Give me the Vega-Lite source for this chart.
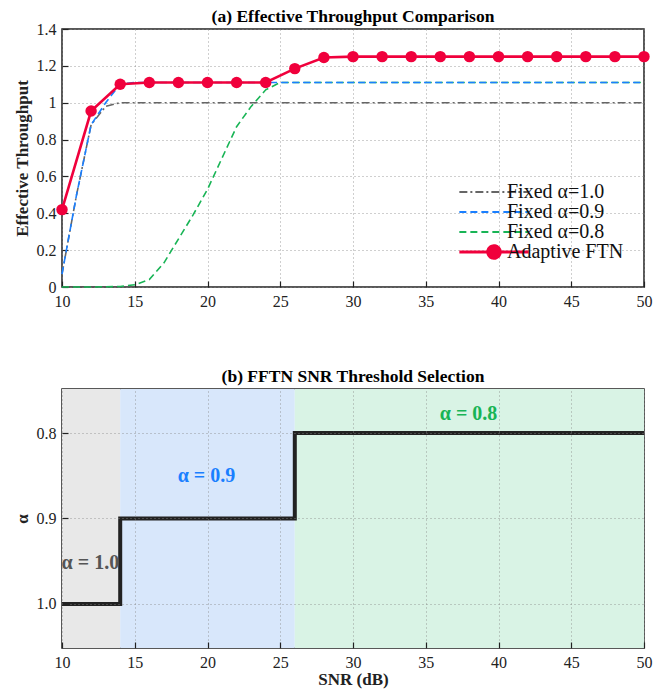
{
  "$schema": "https://vega.github.io/schema/vega-lite/v6.json",
  "padding": {"left": 12, "top": 6, "right": 12, "bottom": 2},
  "spacing": 56,
  "resolve": {"scale": {"color": "independent", "strokeDash": "independent"}, "legend": {"color": "independent", "strokeDash": "independent"}},
  "config": {
    "font": "Liberation Serif",
    "view": {"stroke": "#222", "strokeWidth": 1.5},
    "title": {"fontSize": 17.5, "fontWeight": "bold", "color": "#000", "offset": 4},
    "legend": {"padding": 0},
    "axis": {
      "labelFont": "Liberation Serif", "labelFontSize": 16, "labelColor": "#222", "labelOverlap": false, "labelFlush": false,
      "titleFont": "Liberation Serif", "titleFontSize": 17, "titleFontWeight": "bold", "titleColor": "#222",
      "grid": true, "gridDash": [1, 3], "gridColor": "#888", "gridOpacity": 0.8,
      "domain": false, "tickColor": "#222", "tickSize": -6, "tickWidth": 1.2, "labelPadding": 12
    }
  },
  "datasets": {
    "fixed": [
      {"series": "Fixed α=1.0", "snr": 10, "v": 0.07},
      {"series": "Fixed α=1.0", "snr": 11, "v": 0.5},
      {"series": "Fixed α=1.0", "snr": 12, "v": 0.88},
      {"series": "Fixed α=1.0", "snr": 13, "v": 0.98},
      {"series": "Fixed α=1.0", "snr": 14, "v": 1.0},
      {"series": "Fixed α=1.0", "snr": 20, "v": 1.0},
      {"series": "Fixed α=1.0", "snr": 30, "v": 1.0},
      {"series": "Fixed α=1.0", "snr": 40, "v": 1.0},
      {"series": "Fixed α=1.0", "snr": 50, "v": 1.0},
      {"series": "Fixed α=0.8", "snr": 10, "v": 0},
      {"series": "Fixed α=0.8", "snr": 12, "v": 0},
      {"series": "Fixed α=0.8", "snr": 14, "v": 0.003},
      {"series": "Fixed α=0.8", "snr": 15, "v": 0.012},
      {"series": "Fixed α=0.8", "snr": 16, "v": 0.04},
      {"series": "Fixed α=0.8", "snr": 17, "v": 0.13},
      {"series": "Fixed α=0.8", "snr": 18, "v": 0.26},
      {"series": "Fixed α=0.8", "snr": 19, "v": 0.39},
      {"series": "Fixed α=0.8", "snr": 20, "v": 0.53},
      {"series": "Fixed α=0.8", "snr": 21, "v": 0.7},
      {"series": "Fixed α=0.8", "snr": 22, "v": 0.87},
      {"series": "Fixed α=0.8", "snr": 23, "v": 0.98},
      {"series": "Fixed α=0.8", "snr": 24, "v": 1.07},
      {"series": "Fixed α=0.8", "snr": 25, "v": 1.11},
      {"series": "Fixed α=0.8", "snr": 30, "v": 1.11},
      {"series": "Fixed α=0.8", "snr": 40, "v": 1.11},
      {"series": "Fixed α=0.8", "snr": 50, "v": 1.11},
      {"series": "Fixed α=0.9", "snr": 10, "v": 0.07},
      {"series": "Fixed α=0.9", "snr": 11, "v": 0.5},
      {"series": "Fixed α=0.9", "snr": 12, "v": 0.88},
      {"series": "Fixed α=0.9", "snr": 13, "v": 1.0},
      {"series": "Fixed α=0.9", "snr": 14, "v": 1.1},
      {"series": "Fixed α=0.9", "snr": 15, "v": 1.11},
      {"series": "Fixed α=0.9", "snr": 20, "v": 1.11},
      {"series": "Fixed α=0.9", "snr": 30, "v": 1.11},
      {"series": "Fixed α=0.9", "snr": 40, "v": 1.11},
      {"series": "Fixed α=0.9", "snr": 50, "v": 1.11}
    ],
    "adaptive": [
      {"series": "Adaptive FTN", "snr": 10, "v": 0.42},
      {"series": "Adaptive FTN", "snr": 12, "v": 0.955},
      {"series": "Adaptive FTN", "snr": 14, "v": 1.1},
      {"series": "Adaptive FTN", "snr": 16, "v": 1.11},
      {"series": "Adaptive FTN", "snr": 18, "v": 1.11},
      {"series": "Adaptive FTN", "snr": 20, "v": 1.11},
      {"series": "Adaptive FTN", "snr": 22, "v": 1.11},
      {"series": "Adaptive FTN", "snr": 24, "v": 1.11},
      {"series": "Adaptive FTN", "snr": 26, "v": 1.185},
      {"series": "Adaptive FTN", "snr": 28, "v": 1.245},
      {"series": "Adaptive FTN", "snr": 30, "v": 1.25},
      {"series": "Adaptive FTN", "snr": 32, "v": 1.25},
      {"series": "Adaptive FTN", "snr": 34, "v": 1.25},
      {"series": "Adaptive FTN", "snr": 36, "v": 1.25},
      {"series": "Adaptive FTN", "snr": 38, "v": 1.25},
      {"series": "Adaptive FTN", "snr": 40, "v": 1.25},
      {"series": "Adaptive FTN", "snr": 42, "v": 1.25},
      {"series": "Adaptive FTN", "snr": 44, "v": 1.25},
      {"series": "Adaptive FTN", "snr": 46, "v": 1.25},
      {"series": "Adaptive FTN", "snr": 48, "v": 1.25},
      {"series": "Adaptive FTN", "snr": 50, "v": 1.25}
    ],
    "regions": [
      {"from": 10, "to": 14, "region": "1.0"},
      {"from": 14, "to": 26, "region": "0.9"},
      {"from": 26, "to": 50, "region": "0.8"}
    ],
    "steps": [
      {"snr": 10, "alpha": 1.0},
      {"snr": 14, "alpha": 1.0},
      {"snr": 14, "alpha": 0.9},
      {"snr": 26, "alpha": 0.9},
      {"snr": 26, "alpha": 0.8},
      {"snr": 50, "alpha": 0.8}
    ],
    "labels": [
      {"snr": 11.95, "alpha": 0.952, "label": "α = 1.0", "region": "1.0"},
      {"snr": 19.93, "alpha": 0.85, "label": "α = 0.9", "region": "0.9"},
      {"snr": 37.94, "alpha": 0.778, "label": "α = 0.8", "region": "0.8"}
    ]
  },
  "vconcat": [
    {
      "title": {"text": "(a) Effective Throughput Comparison", "offset": -4},
      "width": 582,
      "height": 258,
      "layer": [
        {
          "data": {"name": "fixed"},
          "mark": {"type": "line", "strokeWidth": 1.6},
          "encoding": {
            "x": {"field": "snr", "type": "quantitative", "scale": {"domain": [10, 50], "nice": false}, "axis": {"title": null, "values": [10,15,20,25,30,35,40,45,50], "tickCount": 12}},
            "y": {"field": "v", "type": "quantitative", "scale": {"domain": [0, 1.4], "nice": false}, "axis": {"title": "Effective Throughput", "values": [0,0.2,0.4,0.6,0.8,1,1.2,1.4], "tickCount": 10, "format": "~g", "titlePadding": 5}},
            "color": {"field": "series", "type": "nominal",
              "scale": {"domain": ["Fixed α=1.0", "Fixed α=0.9", "Fixed α=0.8", "Adaptive FTN"], "range": ["#666666", "#1a7fff", "#18b455", "#f0003c"]},
              "legend": {"title": null, "orient": "none", "legendX": 422, "legendY": 153, "labelFontSize": 20, "labelFont": "Liberation Serif", "labelColor": "#111", "symbolType": "stroke", "symbolSize": 4800, "symbolStrokeWidth": 2, "rowPadding": -16, "labelOffset": 3,
                "encode": {"symbols": {"update": {
                  "shape": {"signal": "datum.value === 'Adaptive FTN' ? 'M-1,0H1M0.18,0A0.18,0.18 0 1,1 -0.18,0A0.18,0.18 0 1,1 0.18,0Z' : 'stroke'"},
                  "fill": {"signal": "datum.value === 'Adaptive FTN' ? '#f0003c' : 'transparent'"},
                  "strokeWidth": {"signal": "datum.value === 'Adaptive FTN' ? 3 : 2"}
                }}}}},
            "strokeDash": {"field": "series", "type": "nominal",
              "scale": {"domain": ["Fixed α=1.0", "Fixed α=0.9", "Fixed α=0.8", "Adaptive FTN"], "range": [[8, 3, 2, 3], [7, 4], [7, 4], [1, 0]]},
              "legend": {"title": null, "orient": "none", "legendX": 422, "legendY": 153}}
          }
        },
        {
          "data": {"name": "adaptive"},
          "mark": {"type": "line", "strokeWidth": 2.6, "point": {"filled": true, "size": 130, "opacity": 1}},
          "encoding": {
            "x": {"field": "snr", "type": "quantitative"},
            "y": {"field": "v", "type": "quantitative"},
            "color": {"field": "series", "type": "nominal"}
          }
        }
      ]
    },
    {
      "title": {"text": "(b) FFTN SNR Threshold Selection", "offset": 4},
      "width": 582,
      "height": 259,
      "layer": [
        {
          "data": {"name": "regions"},
          "mark": {"type": "rect"},
          "encoding": {
            "x": {"field": "from", "type": "quantitative", "scale": {"domain": [10, 50], "nice": false}, "axis": {"title": "SNR (dB)", "values": [10,15,20,25,30,35,40,45,50], "tickCount": 12, "zindex": 1, "titlePadding": 1}},
            "x2": {"field": "to"},
            "color": {"field": "region", "type": "nominal", "scale": {"domain": ["1.0", "0.9", "0.8"], "range": ["#e8e8e8", "#d8e7fb", "#d9f3e5"]}, "legend": null}
          }
        },
        {
          "data": {"name": "steps"},
          "mark": {"type": "line", "color": "#222", "strokeWidth": 4},
          "encoding": {
            "x": {"field": "snr", "type": "quantitative"},
            "y": {"field": "alpha", "type": "quantitative", "scale": {"domain": [0.7485, 1.0515], "nice": false, "reverse": true, "zero": false}, "axis": {"title": "α", "values": [0.8, 0.9, 1.0], "format": ".1f", "zindex": 1, "titlePadding": 5}},
            "order": {"field": "snr_order_none", "type": "quantitative"}
          }
        },
        {
          "data": {"name": "labels"},
          "mark": {"type": "text", "fontSize": 20, "fontWeight": "bold", "font": "Liberation Serif"},
          "encoding": {
            "x": {"field": "snr", "type": "quantitative"},
            "y": {"field": "alpha", "type": "quantitative"},
            "text": {"field": "label"},
            "color": {"field": "region", "type": "nominal", "scale": {"domain": ["1.0", "0.9", "0.8"], "range": ["#555555", "#1a7fff", "#18b455"]}, "legend": null}
          }
        }
      ],
      "resolve": {"scale": {"color": "independent"}}
    }
  ]
}
